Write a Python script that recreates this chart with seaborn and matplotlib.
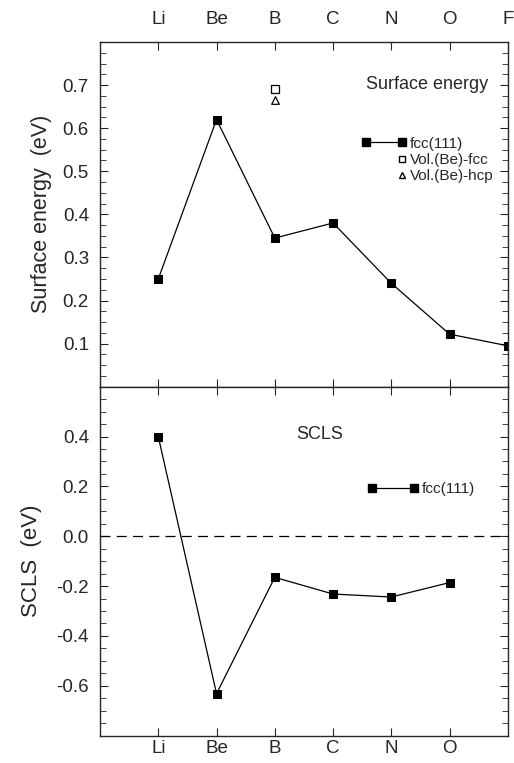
import numpy as np
import matplotlib
matplotlib.use("Agg")
import matplotlib.pyplot as plt
import seaborn as sns
from matplotlib.lines import Line2D
from matplotlib.legend_handler import HandlerLine2D
from matplotlib.ticker import MultipleLocator

# data
elements = ["Li", "Be", "B", "C", "N", "O", "F"]
surf_energy = [0.25, 0.62, 0.345, 0.38, 0.24, 0.122, 0.095]
vol_fcc = [0.69]   # at B
vol_hcp = [0.665]  # at B
vol_elem = ["B"]

scls_elements = ["Li", "Be", "B", "C", "N", "O"]
scls = [0.40, -0.632, -0.165, -0.232, -0.244, -0.186]

sns.set_style("ticks")
plt.rcParams["font.family"] = ["Liberation Sans", "DejaVu Sans"]
plt.rcParams["axes.linewidth"] = 1.0


class RightMarker(HandlerLine2D):
    # only one marker, at the right end of the legend handle
    def create_artists(self, *args, **kwargs):
        arts = super().create_artists(*args, **kwargs)
        for a in arts:
            a.set_markevery([1])
        return arts


xpos = {e: i for i, e in enumerate(elements)}

fig = plt.figure(figsize=(5.14, 7.63), dpi=100)
gs = fig.add_gridspec(2, 1, height_ratios=[346, 350], hspace=0,
                      left=0.1946, right=0.988, top=0.945, bottom=0.036)
ax1 = fig.add_subplot(gs[0])
ax2 = fig.add_subplot(gs[1])

tick_fs = 13.5

# ---- top panel: surface energy
sns.lineplot(x=[xpos[e] for e in elements], y=surf_energy, ax=ax1, color="k",
             lw=0.9, marker="s", markersize=6, markeredgecolor="k", legend=False)
sns.scatterplot(x=[xpos[e] for e in vol_elem], y=vol_fcc, ax=ax1, marker="s",
                s=28, facecolor="white", edgecolor="k", linewidth=0.9, legend=False)
sns.scatterplot(x=[xpos[e] for e in vol_elem], y=vol_hcp, ax=ax1, marker="^",
                s=30, facecolor="white", edgecolor="k", linewidth=0.9, legend=False)

ax1.set_xlim(-1, 6)
ax1.set_ylim(0.0, 0.8)
ax1.set_xticks(range(len(elements)))
ax1.set_xticklabels(elements)
ax1.set_yticks([0.1, 0.2, 0.3, 0.4, 0.5, 0.6, 0.7])
ax1.yaxis.set_minor_locator(MultipleLocator(0.025))
ax1.tick_params(axis="x", which="both", top=True, bottom=True, labeltop=True,
                labelbottom=False, direction="in", length=6, labelsize=tick_fs, pad=10)
ax1.tick_params(axis="y", which="both", left=True, right=True, direction="in",
                labelsize=tick_fs, pad=8)
ax1.tick_params(axis="y", which="major", length=6)
ax1.tick_params(axis="y", which="minor", length=4)
ax1.set_ylabel("Surface energy  (eV)", fontsize=15.5, labelpad=8)
ax1.text(0.652, 0.876, "Surface energy", transform=ax1.transAxes, fontsize=13,
         va="center", ha="left")

h1 = [Line2D([], [], color="k", lw=0.9, marker="s", markersize=6),
      Line2D([], [], color="k", ls="none", marker="s", markersize=5,
             markerfacecolor="white"),
      Line2D([], [], color="k", ls="none", marker="^", markersize=5,
             markerfacecolor="white")]
hmap1 = {h1[0]: HandlerLine2D(numpoints=2, marker_pad=0),
         h1[1]: RightMarker(numpoints=2, marker_pad=0),
         h1[2]: RightMarker(numpoints=2, marker_pad=0)}
ax1.legend(h1, ["fcc(111)", "Vol.(Be)-fcc", "Vol.(Be)-hcp"], loc="upper left",
           bbox_to_anchor=(0.653, 0.725), frameon=False, fontsize=11,
           handler_map=hmap1, handlelength=2.36, handletextpad=0.5,
           labelspacing=0.15, borderpad=0, borderaxespad=0)

# ---- bottom panel: SCLS
ax2.axhline(0.0, color="k", lw=0.9, ls=(0, (8, 5)))
sns.lineplot(x=[xpos[e] for e in scls_elements], y=scls, ax=ax2, color="k",
             lw=0.9, marker="s", markersize=6, markeredgecolor="k", legend=False)
ax2.set_xlim(-1, 6)
ax2.set_ylim(-0.8, 0.6)
ax2.set_xticks(range(len(scls_elements)))
ax2.set_xticklabels(scls_elements)
ax2.set_yticks([-0.6, -0.4, -0.2, 0.0, 0.2, 0.4])
ax2.set_yticklabels(["-0.6", "-0.4", "-0.2", "0.0", "0.2", "0.4"])
ax2.yaxis.set_minor_locator(MultipleLocator(0.05))
ax2.tick_params(axis="x", which="both", top=True, bottom=True, direction="in",
                length=6, labelsize=tick_fs, pad=3)
ax2.tick_params(axis="y", which="both", left=True, right=True, direction="in",
                labelsize=tick_fs, pad=8)
ax2.tick_params(axis="y", which="major", length=6)
ax2.tick_params(axis="y", which="minor", length=4)
ax2.set_ylabel("SCLS  (eV)", fontsize=16, labelpad=10)
ax2.text(0.48, 0.863, "SCLS", transform=ax2.transAxes, fontsize=13,
         va="center", ha="left")

h2 = [Line2D([], [], color="k", lw=0.9, marker="s", markersize=6)]
ax2.legend(h2, ["fcc(111)"], loc="upper left", bbox_to_anchor=(0.668, 0.726),
           frameon=False, fontsize=11,
           handler_map={h2[0]: HandlerLine2D(numpoints=2, marker_pad=0)},
           handlelength=2.75, handletextpad=0.5, borderpad=0, borderaxespad=0)

fig.savefig("out.png", dpi=100)
